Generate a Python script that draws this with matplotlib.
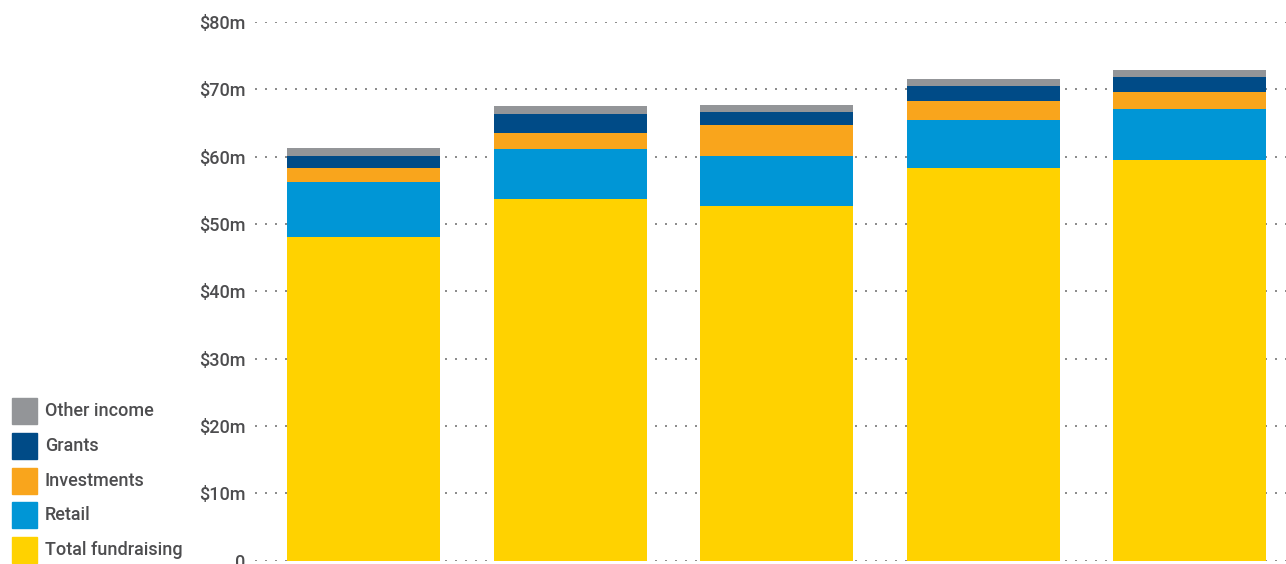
import matplotlib.pyplot as plt
import numpy as np
from matplotlib.patches import Rectangle

plt.rcParams['font.family'] = ['Roboto', 'DejaVu Sans']

# values in $m
years = ["1", "2", "3", "4", "5"]
fundraising = [48.1, 53.7, 52.7, 58.3, 59.5]
retail = [8.1, 7.4, 7.4, 7.2, 7.6]
investments = [2.1, 2.4, 4.6, 2.8, 2.5]
grants = [1.8, 2.8, 1.9, 2.2, 2.2]
other = [1.2, 1.2, 1.1, 1.0, 1.1]

series_names = ["Total fundraising", "Retail", "Investments", "Grants", "Other income"]
series = [fundraising, retail, investments, grants, other]
colors = ["#ffd200", "#0096d6", "#f9a51c", "#004b87", "#939598"]

ytick_vals = [0, 10, 20, 30, 40, 50, 60, 70, 80]
ytick_labels = ["0", "$10m", "$20m", "$30m", "$40m", "$50m", "$60m", "$70m", "$80m"]

txt_color = "#4d4d4f"

W, H = 1286, 564
fig = plt.figure(figsize=(W / 100, H / 100), dpi=100)
ax = fig.add_axes([255 / W, (H - 560.5) / H, (W - 255) / W, (560.5 - 22) / H])

x = np.arange(len(years))
bottom = np.zeros(len(years))
for vals, c in zip(series, colors):
    ax.bar(x, vals, bottom=bottom, width=0.74, color=c, zorder=3)
    bottom += np.array(vals)

ax.set_xlim(-0.525, 4.465)
ax.set_ylim(0, 80)
ax.set_yticks(ytick_vals)
ax.set_yticklabels(ytick_labels, fontsize=13, color=txt_color, fontweight="medium")
ax.tick_params(axis="y", length=0, pad=7)
ax.set_xticks([])
for s in ax.spines.values():
    s.set_visible(False)
for v in ytick_vals:
    ax.axhline(v, color="#777777", linewidth=1.2, dashes=(1.2, 4.8), zorder=1)

# legend drawn by hand at bottom left
leg_top = 398
for i, (name, c) in enumerate(zip(series_names[::-1], colors[::-1])):
    y0 = leg_top + i * 34.8
    fig.add_artist(Rectangle((12 / W, 1 - (y0 + 26) / H), 25 / W, 26 / H,
                             transform=fig.transFigure, color=c))
    fig.text(45 / W, 1 - (y0 + 13) / H, name, fontsize=13, color=txt_color,
             va="center", ha="left", fontweight="medium")

fig.savefig("out.png", dpi=100)
